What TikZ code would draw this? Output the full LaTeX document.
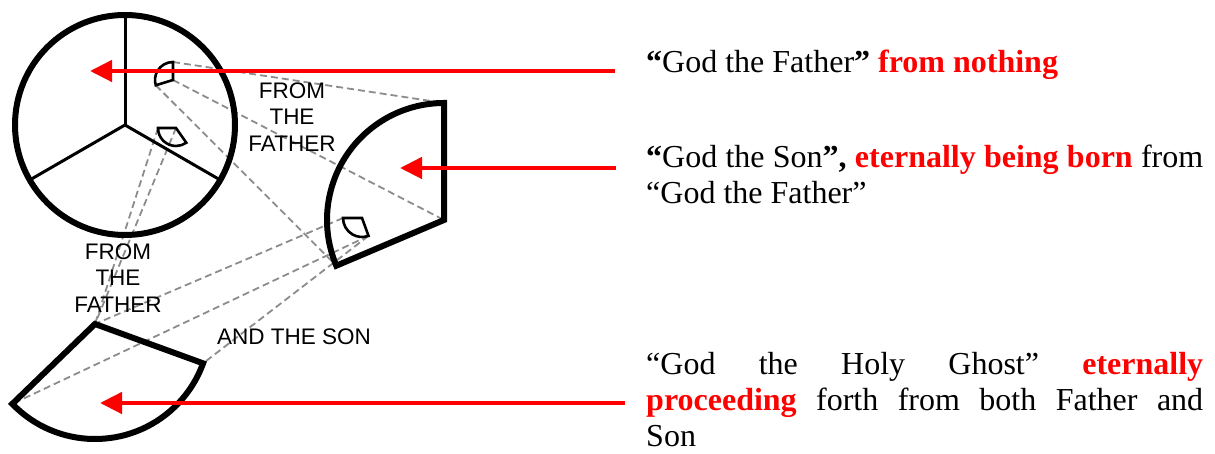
\documentclass[tikz,border=0pt]{standalone}
\usepackage{fontspec}
\setmainfont{Liberation Serif}
\newfontfamily\labelfont{Liberation Sans}
\usetikzlibrary{arrows.meta}
\definecolor{tred}{RGB}{255,0,0}
\definecolor{dgray}{RGB}{140,140,140}
\begin{document}
\begin{tikzpicture}[x=1pt,y=1pt,
  heavy/.style={line width=6pt, draw=black, line join=miter},
  spoke/.style={line width=3pt, draw=black},
  mini/.style={line width=2.6pt, draw=black, line join=miter},
  proj/.style={draw=dgray, line width=1.8pt, dash pattern=on 7pt off 4pt},
  pointer/.style={draw=tred, line width=4.5pt, -{Triangle[length=22pt,width=21pt]}},
  lbl/.style={font=\labelfont\fontsize{22.5}{26.5}\selectfont, align=center, inner sep=0pt},
  txt/.style={font=\fontsize{32}{36}\selectfont, anchor=base west, inner sep=0pt},
]
\useasboundingbox (0,0) rectangle (1215,454);

% key points
\coordinate (C) at (125,329);
\coordinate (S) at (444,234);
\coordinate (Stop) at (444,351);
\coordinate (Sll) at (336.3,188.3);
\coordinate (G) at (95,130);
\coordinate (Gl) at (12.3,50.1);
\coordinate (Gr) at (203.1,90.7);
\coordinate (Ma) at (173,374);
\coordinate (Mat) at (173,392);
\coordinate (Mal) at (155.8,368.7);
\coordinate (Mb) at (176,326);
\coordinate (Mbl) at (158,326);
\coordinate (Mc) at (362,236);
\coordinate (Mcl) at (343,236);
\coordinate (Mcr) at (368.5,218.1);

% projection lines
\draw[proj] (Mat) -- (Stop);
\draw[proj] (Ma) -- (S);
\draw[proj] (Mal) -- (Sll);
\draw[proj] (Mbl) -- (G);
\draw[proj] (Mb) -- (G);
\draw[proj] (Mcl) -- (G);
\draw[proj] (Mcr) -- (Gl);
\draw[proj] (Mcr) -- (Gr);

% Father circle
\draw[spoke] (C) -- ++(90:110);
\draw[spoke] (C) -- ++(210:110);
\draw[spoke] (C) -- ++(330:110);
\draw[heavy] (C) circle[radius=110];

% Son sector
\draw[heavy] (S) -- (Stop) arc[start angle=90, end angle=203, radius=117] -- cycle;
% Holy Ghost sector
\draw[heavy] (G) -- (Gl) arc[start angle=224, end angle=340, radius=115] -- cycle;

% small pieces
\draw[mini] (Ma) -- (Mat) arc[start angle=90, end angle=197, radius=18] -- cycle;
\draw[mini] (Mb) -- (Mbl) arc[start angle=180, end angle=305, radius=18] -- cycle;
\draw[mini] (Mc) -- (Mcl) arc[start angle=180, end angle=290, radius=19] -- cycle;

% labels
\node[lbl] (ftf1) at (292,337) {FROM\\THE\\FATHER};
\node[lbl] (ftf2) at (118,176) {FROM\\THE\\FATHER};
\node[lbl] (ats) at (294,117) {AND THE SON};

% right texts
\node[txt] (t1) at (646,381) {\textbf{“}God the Father\textbf{”} \textcolor{tred}{\textbf{from nothing}}};
\node[txt] (t2a) at (646,286) {\makebox[557pt][s]{\textbf{“}God the Son\textbf{”,} \textcolor{tred}{\textbf{eternally being born}} from}};
\node[txt] (t2b) at (646,250) {“God the Father”};
\node[txt] (t3a) at (646,79) {\makebox[557pt][s]{“God the Holy Ghost” \textcolor{tred}{\textbf{eternally}}}};
\node[txt] (t3b) at (646,43) {\makebox[557pt][s]{\textcolor{tred}{\textbf{proceeding}} forth from both Father and}};
\node[txt] (t3c) at (646,7) {Son};

% red pointers
\coordinate (a1s) at (615,383);
\coordinate (a1e) at (90,383);
\coordinate (a2s) at (616,286);
\coordinate (a2e) at (400,286);
\coordinate (a3s) at (625,51);
\coordinate (a3e) at (100,51);
\draw[pointer] (a1s) -- (a1e);
\draw[pointer] (a2s) -- (a2e);
\draw[pointer] (a3s) -- (a3e);
\end{tikzpicture}
\end{document}
